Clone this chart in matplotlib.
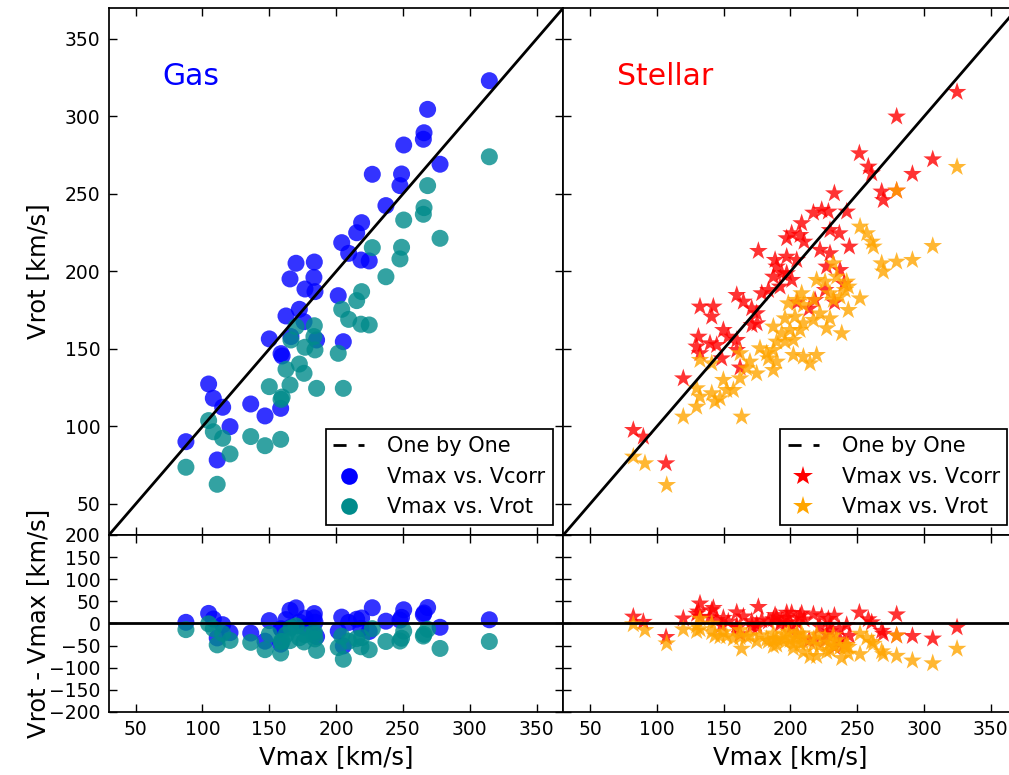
import numpy as np
import matplotlib
matplotlib.use("Agg")
import matplotlib.pyplot as plt
from matplotlib.lines import Line2D

# ---- gas kinematics: maximum velocity, corrected and observed rotation ----
gas_vmax = np.array([314.7, 268.5, 265.8, 265.3, 250.6, 227.1, 249.0, 247.8, 277.8,
                     237.3, 219.1, 215.4, 204.2, 209.4, 218.6, 224.8, 201.6, 205.4,
                     170.0, 183.7, 165.5, 183.4, 176.7, 184.2, 172.5, 162.5, 176.0,
                     185.4, 166.2, 150.0, 158.8, 159.6, 158.5, 104.6, 108.1, 115.1,
                     136.1, 146.8, 120.6, 87.6, 111.0])
gas_vcorr = np.array([323.1, 304.6, 289.5, 285.3, 281.6, 262.7, 262.9, 255.4, 269.2,
                      242.5, 231.5, 225.0, 218.6, 211.7, 207.4, 206.8, 184.4, 154.7,
                      205.3, 206.1, 195.2, 196.2, 188.7, 187.0, 175.6, 171.3, 167.6,
                      155.8, 158.0, 156.5, 147.0, 145.5, 111.7, 127.4, 118.2, 112.4,
                      114.5, 106.8, 99.9, 90.2, 78.4])
gas_vrot = np.array([274.0, 255.4, 241.2, 236.9, 233.2, 215.4, 215.6, 208.1, 221.4,
                     196.6, 187.0, 181.2, 175.6, 169.1, 166.0, 165.5, 147.2, 124.6,
                     164.4, 165.0, 126.8, 158.0, 151.1, 149.4, 140.3, 136.9, 134.3,
                     124.6, 155.8, 125.7, 117.5, 119.0, 91.7, 103.8, 96.6, 92.4,
                     93.5, 87.6, 82.3, 73.7, 62.7])

# ---- stellar kinematics ----
star_corr_vmax = np.array([324.7, 306.5, 291.3, 279.5, 279.5, 268.3, 269.5, 260.8, 258.3,
                           251.6, 244.1, 242.1, 237.1, 236.6, 232.9, 229.6, 229.6, 228.4,
                           227.1, 223.4, 222.1, 218.4, 217.2, 210.2, 208.4, 207.2, 204.7,
                           201.0, 200.9, 197.2, 197.2, 197.2, 193.5, 192.2, 189.7, 188.5,
                           187.2, 183.5, 178.5, 176.0, 175.0, 174.7, 171.2, 171.0, 164.8,
                           162.3, 159.8, 159.8, 159.8, 153.5, 149.8, 148.5, 144.8, 142.3,
                           141.1, 139.8, 132.3, 132.3, 131.1, 129.8, 119.8, 106.9, 89.9,
                           82.4, 205.0, 214.0, 226.0, 240.0, 233.0])
star_vcorr = np.array([315.8, 272.3, 262.9, 299.9, 252.1, 251.5, 246.0, 263.3, 267.6,
                       276.2, 216.0, 238.6, 200.9, 224.6, 250.4, 226.7, 211.7, 238.6,
                       203.1, 239.7, 213.9, 181.6, 237.9, 219.2, 231.1, 223.5, 207.4,
                       194.5, 224.6, 221.4, 209.5, 198.8, 198.8, 190.2, 203.1, 207.4,
                       196.6, 188.0, 185.9, 213.2, 166.5, 173.0, 165.4, 176.2, 180.5,
                       138.0, 184.8, 155.8, 149.3, 157.9, 162.2, 143.9, 152.5, 177.3,
                       170.8, 153.6, 177.3, 147.2, 157.9, 151.5, 131.0, 76.2, 93.4,
                       97.7, 180.0, 176.0, 188.0, 192.0, 180.0])

star_rot_vmax = np.array([324.7, 306.5, 291.3, 279.5, 279.5, 269.5, 268.3, 262.1, 260.8,
                          257.1, 252.1, 252.1, 243.3, 243.3, 242.1, 240.8, 238.4, 237.1,
                          234.6, 232.1, 232.1, 229.6, 229.6, 227.1, 225.9, 222.1, 219.6,
                          219.6, 217.2, 217.2, 214.7, 209.7, 209.7, 209.7, 208.4, 207.2,
                          204.7, 203.4, 202.2, 202.2, 199.7, 198.4, 196.0, 195.9, 193.5,
                          189.7, 189.7, 187.2, 187.2, 187.2, 183.5, 182.2, 177.2, 174.7,
                          169.7, 167.2, 163.5, 162.3, 162.3, 157.3, 152.3, 149.8, 147.3,
                          143.5, 141.1, 141.1, 132.3, 132.3, 129.8, 129.8, 119.8, 107.4,
                          91.1, 82.4])
star_vrot = np.array([267.4, 216.4, 207.4, 252.1, 206.3, 199.9, 205.2, 216.0, 219.2,
                      224.6, 228.9, 182.6, 190.2, 175.1, 193.4, 188.0, 160.1, 183.7,
                      196.6, 205.2, 181.6, 185.9, 169.7, 163.3, 193.4, 172.9, 194.5,
                      146.1, 181.6, 168.7, 140.7, 178.3, 166.5, 145.0, 185.9, 162.2,
                      181.6, 170.8, 155.8, 146.1, 162.2, 179.4, 154.7, 169.7, 160.1,
                      154.7, 141.8, 164.4, 149.3, 136.4, 143.9, 147.2, 150.4, 134.2,
                      141.8, 137.5, 106.3, 147.2, 131.0, 123.5, 123.5, 130.0, 118.1,
                      116.0, 140.7, 121.4, 142.9, 119.2, 124.6, 112.7, 106.3, 62.2,
                      76.2, 80.5])

one_to_one = np.array([0.0, 400.0])
v_ticks = np.arange(50, 351, 50)
res_ticks = np.arange(-200, 201, 50)

plt.rcParams['font.family'] = ['DejaVu Sans']

fig = plt.figure(figsize=(10.09, 7.75), dpi=100)
ax_gas = fig.add_axes([0.1080, 0.3097, 0.4502, 0.6800])
ax_star = fig.add_axes([0.5583, 0.3097, 0.4502, 0.6800])
ax_gas_res = fig.add_axes([0.1080, 0.0813, 0.4502, 0.2284])
ax_star_res = fig.add_axes([0.5583, 0.0813, 0.4502, 0.2284])

pt_kw = dict(alpha=0.8, edgecolors='none')
circ_s = 150
star_s = 200

# upper panels: rotation velocity against maximum velocity
for ax in (ax_gas, ax_star):
    ax.plot(one_to_one, one_to_one, color='k', lw=2, zorder=2)

ax_gas.scatter(gas_vmax, gas_vcorr, s=circ_s, c='blue', marker='o', zorder=1, **pt_kw)
ax_gas.scatter(gas_vmax, gas_vrot, s=circ_s, c='darkcyan', marker='o', zorder=1, **pt_kw)
ax_star.scatter(star_corr_vmax, star_vcorr, s=star_s, c='red', marker='*', zorder=1, **pt_kw)
ax_star.scatter(star_rot_vmax, star_vrot, s=star_s, c='orange', marker='*', zorder=1, **pt_kw)

ax_gas.text(70, 320, 'Gas', color='blue', fontsize=21.5)
ax_star.text(70, 320, 'Stellar', color='red', fontsize=21.5)

# lower panels: residuals
ax_gas_res.scatter(gas_vmax, gas_vcorr - gas_vmax, s=circ_s, c='blue', marker='o', zorder=1, **pt_kw)
ax_gas_res.scatter(gas_vmax, gas_vrot - gas_vmax, s=circ_s, c='darkcyan', marker='o', zorder=1, **pt_kw)
ax_star_res.scatter(star_corr_vmax, star_vcorr - star_corr_vmax, s=star_s, c='red', marker='*', zorder=1, **pt_kw)
ax_star_res.scatter(star_rot_vmax, star_vrot - star_rot_vmax, s=star_s, c='orange', marker='*', zorder=1, **pt_kw)
for ax in (ax_gas_res, ax_star_res):
    ax.axhline(0, color='k', lw=2, zorder=2)

for ax in (ax_gas, ax_star, ax_gas_res, ax_star_res):
    ax.set_xlim(30, 370)
    ax.set_xticks(v_ticks)
    ax.tick_params(direction='in', length=6, width=1, top=True, right=True,
                   labelsize=13.5, pad=6)
    for sp in ax.spines.values():
        sp.set_linewidth(1.25)

for ax in (ax_gas, ax_star):
    ax.set_ylim(30, 370)
    ax.set_yticks(v_ticks)
    ax.tick_params(labelbottom=False)
for ax in (ax_gas_res, ax_star_res):
    ax.set_ylim(-200, 200)
    ax.set_yticks(res_ticks)
    ax.set_xlabel('Vmax [km/s]', fontsize=17.5)
for ax in (ax_star, ax_star_res):
    ax.tick_params(labelleft=False)

ax_gas.set_ylabel('Vrot [km/s]', fontsize=17.5)
ax_gas_res.set_ylabel('Vrot - Vmax [km/s]', fontsize=17.5)
ax_gas.yaxis.set_label_coords(-0.13, 0.5)
ax_gas_res.yaxis.set_label_coords(-0.13, 0.5)

# legends
def make_legend(ax, marker, c1, c2):
    ms = 12 if marker == 'o' else 15
    handles = [
        Line2D([], [], color='k', lw=2, ls=(0, (4.7, 4.3))),
        Line2D([], [], ls='none', marker=marker, color=c1, markersize=ms, markeredgewidth=0),
        Line2D([], [], ls='none', marker=marker, color=c2, markersize=ms, markeredgewidth=0),
    ]
    labels = ['One by One', 'Vmax vs. Vcorr', 'Vmax vs. Vrot']
    leg = ax.legend(handles, labels, loc='lower right', fontsize=15, handlelength=1.5,
                    handletextpad=1.1, borderpad=0.35, labelspacing=0.5,
                    fancybox=False, framealpha=1, edgecolor='k', borderaxespad=0.5)
    leg.get_frame().set_linewidth(1.25)

make_legend(ax_gas, 'o', 'blue', 'darkcyan')
make_legend(ax_star, '*', 'red', 'orange')

fig.savefig('out.png', dpi=100)
